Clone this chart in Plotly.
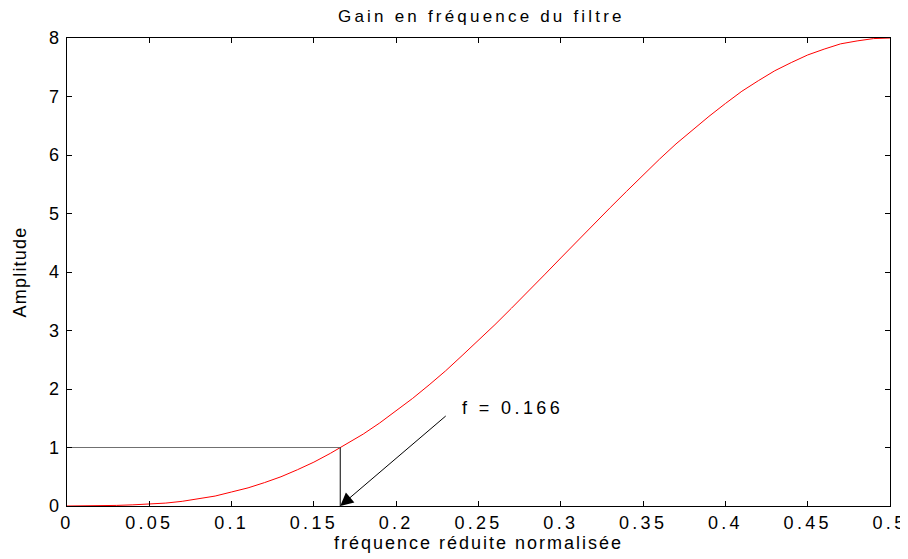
import plotly.graph_objects as go

# fréquence réduite et gain
freq = [0.00, 0.01, 0.02, 0.03, 0.04, 0.05, 0.06, 0.07, 0.08, 0.09,
        0.10, 0.11, 0.12, 0.13, 0.14, 0.15, 0.16, 0.17, 0.18, 0.19,
        0.20, 0.21, 0.22, 0.23, 0.24, 0.25, 0.26, 0.27, 0.28, 0.29,
        0.30, 0.31, 0.32, 0.33, 0.34, 0.35, 0.36, 0.37, 0.38, 0.39,
        0.40, 0.41, 0.42, 0.43, 0.44, 0.45, 0.46, 0.47, 0.48, 0.49, 0.50]
gain = [0.00, 0.00, 0.00, 0.01, 0.02, 0.03, 0.05, 0.08, 0.12, 0.17,
        0.24, 0.31, 0.40, 0.50, 0.62, 0.75, 0.90, 1.06, 1.23, 1.42,
        1.63, 1.84, 2.07, 2.31, 2.57, 2.83, 3.10, 3.38, 3.66, 3.95,
        4.24, 4.53, 4.82, 5.10, 5.38, 5.66, 5.93, 6.19, 6.43, 6.66,
        6.88, 7.09, 7.27, 7.44, 7.58, 7.71, 7.81, 7.90, 7.95, 7.99, 8.00]

f_cut = 0.166
g_cut = 1
x_ticks = [0, 0.05, 0.1, 0.15, 0.2, 0.25, 0.3, 0.35, 0.4, 0.45, 0.5]
x_labels = ["0", "0.05", "0.1", "0.15", "0.2", "0.25", "0.3", "0.35", "0.4", "0.45", "0.5"]
y_ticks = [0, 1, 2, 3, 4, 5, 6, 7, 8]
y_labels = ["0", "1", "2", "3", "4", "5", "6", "7", "8"]

font = "Liberation Sans, Arial, sans-serif"


def spaced(txt, px=3.5):
    # texte espacé façon MATLAB
    return f'<span style="letter-spacing:{px}px">{txt}</span>'


fig = go.Figure()
fig.add_trace(go.Scatter(x=freq, y=gain, mode="lines", line=dict(color="red", width=1)))
# repères f = 0.166
fig.add_trace(go.Scatter(x=[0, f_cut], y=[g_cut, g_cut], mode="lines",
                         line=dict(color="#707070", width=1)))
fig.add_trace(go.Scatter(x=[f_cut, f_cut], y=[g_cut, 0], mode="lines",
                         line=dict(color="black", width=1)))

fig.add_annotation(x=f_cut, y=0, ax=0.231, ay=1.56, axref="x", ayref="y",
                   xref="x", yref="y", text="", showarrow=True,
                   arrowhead=2, arrowsize=2.6, arrowwidth=1, arrowcolor="black")
fig.add_annotation(x=0.2705, y=1.68, text=spaced("f = 0.166", 3.4), showarrow=False,
                   font=dict(family=font, size=18, color="black"))

axis = dict(showline=True, linecolor="black", linewidth=1, mirror="ticks",
            ticks="inside", ticklen=5, tickcolor="black", showgrid=False,
            zeroline=False, automargin=False,
            tickfont=dict(family=font, size=18, color="black"))
fig.update_xaxes(range=[0, 0.5], tickvals=x_ticks,
                 ticktext=[spaced(t, 3.3) for t in x_labels],
                 title=dict(text=spaced("fréquence réduite normalisée", 2.0), standoff=3,
                            font=dict(family=font, size=18, color="black")), **axis)
fig.update_yaxes(range=[0, 8], tickvals=y_ticks,
                 ticktext=[spaced(t, 3.3) for t in y_labels],
                 title=dict(text=spaced("Amplitude", 1.2), standoff=17,
                            font=dict(family=font, size=18, color="black")), **axis)
fig.update_layout(
    width=900, height=551, showlegend=False,
    plot_bgcolor="white", paper_bgcolor="white",
    title=dict(text=spaced("Gain en fréquence du filtre", 3.2), x=0.526, y=0.985,
               xanchor="center", yanchor="middle",
               font=dict(family=font, size=17, color="black")),
    margin=dict(l=59, r=18, t=30, b=53),
)
fig.write_html("out.html")
